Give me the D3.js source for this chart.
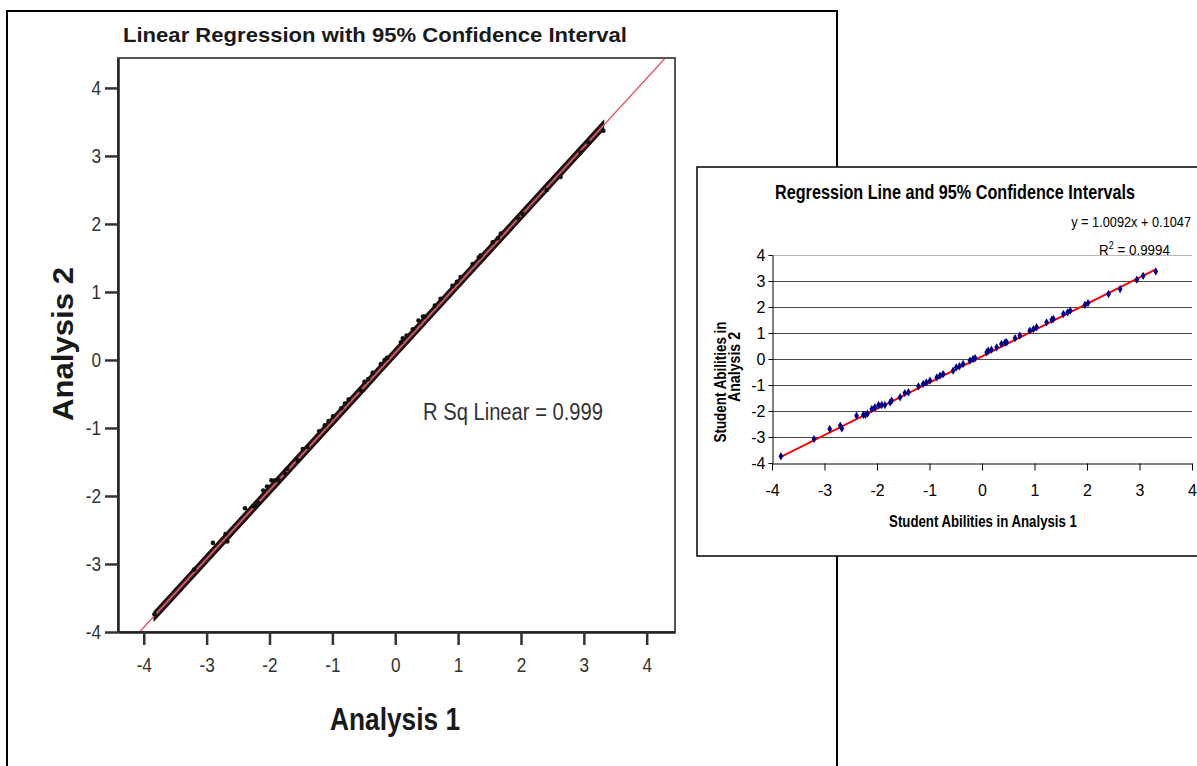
<!DOCTYPE html>
<html>
<head>
<meta charset="utf-8">
<script src="https://cdn.jsdelivr.net/npm/d3@7"></script>
<style>
body { margin: 0; background: #fff; }
svg { display: block; font-family: "Liberation Sans", Arial, sans-serif; }
</style>
</head>
<body>
<svg id="chart" width="1197" height="766"></svg>
<script>

// student abilities (logits), same students in both runs
var analysis1 = [-3.83, -3.20, -2.90, -2.70, -2.67, -2.39, -2.26, -2.22, -2.18, -2.10,
    -2.04, -1.97, -1.91, -1.85, -1.75, -1.72, -1.56, -1.47, -1.40, -1.21,
    -1.12, -1.06, -0.99, -0.86, -0.80, -0.74, -0.55, -0.49, -0.43, -0.36,
    -0.23, -0.17, -0.13, 0.09, 0.12, 0.18, 0.28, 0.37, 0.44, 0.47,
    0.63, 0.72, 0.91, 0.98, 1.04, 1.23, 1.33, 1.36, 1.55, 1.63,
    1.68, 1.96, 2.02, 2.41, 2.63, 2.95, 3.07, 3.31];
var analysis2 = [-3.74, -3.08, -2.69, -2.56, -2.67, -2.18, -2.15, -2.15, -2.10, -1.92,
    -1.86, -1.77, -1.77, -1.77, -1.67, -1.60, -1.47, -1.31, -1.28, -1.05,
    -0.96, -0.90, -0.83, -0.71, -0.64, -0.58, -0.45, -0.32, -0.28, -0.19,
    -0.06, 0.00, 0.03, 0.26, 0.32, 0.36, 0.45, 0.58, 0.64, 0.64,
    0.80, 0.90, 1.09, 1.15, 1.22, 1.41, 1.51, 1.54, 1.73, 1.79,
    1.86, 2.08, 2.15, 2.50, 2.69, 3.05, 3.20, 3.37];

var fitSlope = 1.0092, fitIntercept = 0.1047;
var ciHalfWidth = 0.06;
var axisTicks = [-4, -3, -2, -1, 0, 1, 2, 3, 4];

var points = analysis1.map(function(x, i) { return {x: x, y: analysis2[i]}; });
var xMin = d3.min(analysis1), xMax = d3.max(analysis1);
function fit(x) { return fitSlope * x + fitIntercept; }
function plainTick(d) { return String(d); }   // keep a hyphen, not d3's unicode minus

var svg = d3.select("#chart");

// narrow the glyphs a bit (the originals use condensed fonts)
function squeeze(sel, k) {
    sel.each(function() {
        var w = this.getComputedTextLength();
        this.setAttribute("textLength", w * k);
        this.setAttribute("lengthAdjust", "spacingAndGlyphs");
    });
}
function fitWidth(sel, w) {
    sel.attr("textLength", w).attr("lengthAdjust", "spacingAndGlyphs");
}
// same idea but with a real horizontal scale, so the box matches what is drawn
function scaleTo(sel, x, y, w) {
    sel.attr("x", 0).attr("y", 0).each(function() {
        var k = w / this.getComputedTextLength();
        this.setAttribute("transform", "translate(" + x + "," + y + ") scale(" + k + ",1)");
    });
}

/* ---------- left chart (SPSS) ---------- */

var L = {left: 118, top: 58, right: 675, bottom: 632};
var lx = d3.scaleLinear().domain([-4.41, 4.45]).range([L.left, L.right]);
var ly = d3.scaleLinear().domain([-4, 4.44]).range([L.bottom, L.top]);

svg.append("rect")
    .attr("x", 7).attr("y", 11).attr("width", 830).attr("height", 800)
    .attr("fill", "#fff").attr("stroke", "#000").attr("stroke-width", 2);

svg.append("clipPath").attr("id", "lclip")
    .append("rect")
    .attr("x", L.left).attr("y", L.top)
    .attr("width", L.right - L.left).attr("height", L.bottom - L.top);

var left = svg.append("g");

left.append("text")
    .attr("x", 375).attr("y", 42)
    .attr("text-anchor", "middle")
    .attr("font-size", 21).attr("font-weight", "bold").attr("fill", "#1a1a1a")
    .text("Linear Regression with 95% Confidence Interval")
    .call(fitWidth, 504);

var lplot = left.append("g").attr("clip-path", "url(#lclip)");

var band = d3.range(xMin, xMax + 0.001, (xMax - xMin) / 40);
lplot.append("path")
    .datum(band)
    .attr("d", d3.area()
        .x(function(d) { return lx(d); })
        .y0(function(d) { return ly(fit(d) - ciHalfWidth); })
        .y1(function(d) { return ly(fit(d) + ciHalfWidth); }))
    .attr("fill", "#4a2228").attr("stroke", "#140c0c").attr("stroke-width", 1.8);

lplot.append("line")
    .attr("x1", lx(-4.5)).attr("y1", ly(fit(-4.5)))
    .attr("x2", lx(4.5)).attr("y2", ly(fit(4.5)))
    .attr("stroke", "#e0606e").attr("stroke-width", 1.5);

lplot.selectAll("circle")
    .data(points)
    .enter().append("circle")
    .attr("cx", function(d) { return lx(d.x); })
    .attr("cy", function(d) { return ly(d.y); })
    .attr("r", 2.3)
    .attr("fill", "#111");

left.append("rect")
    .attr("x", L.left).attr("y", L.top)
    .attr("width", L.right - L.left).attr("height", L.bottom - L.top)
    .attr("fill", "none").attr("stroke", "#555").attr("stroke-width", 2);

var lyAxis = left.append("g")
    .attr("transform", "translate(" + L.left + ",0)")
    .call(d3.axisLeft(ly).tickValues(axisTicks).tickFormat(plainTick)
        .tickSize(13).tickPadding(4).tickSizeOuter(0));
var lxAxis = left.append("g")
    .attr("transform", "translate(0," + L.bottom + ")")
    .call(d3.axisBottom(lx).tickValues(axisTicks).tickFormat(plainTick)
        .tickSize(13).tickPadding(13).tickSizeOuter(0));

[lyAxis, lxAxis].forEach(function(ax) {
    ax.select(".domain").attr("stroke", "#222").attr("stroke-width", 2.5);
    ax.selectAll(".tick line").attr("stroke", "#333").attr("stroke-width", 2.5);
    ax.selectAll(".tick text")
        .attr("font-size", 20).attr("fill", "#333")
        .attr("font-family", "Liberation Sans, Arial, sans-serif")
        .call(squeeze, 0.86);
});

left.append("text")
    .attr("x", 423).attr("y", 420)
    .attr("font-size", 23).attr("fill", "#333")
    .text("R Sq Linear = 0.999")
    .call(fitWidth, 180);

left.append("text")
    .attr("x", 395).attr("y", 730)
    .attr("text-anchor", "middle")
    .attr("font-size", 31).attr("font-weight", "bold").attr("fill", "#1a1a1a")
    .text("Analysis 1")
    .call(fitWidth, 130);

left.append("text")
    .attr("transform", "translate(73,344) rotate(-90)")
    .attr("text-anchor", "middle")
    .attr("font-size", 30).attr("font-weight", "bold").attr("fill", "#1a1a1a")
    .text("Analysis 2")
    .call(fitWidth, 154);

/* ---------- right chart (Excel) ---------- */

var R = {left: 772, top: 255, right: 1192, bottom: 463};
var rx = d3.scaleLinear().domain([-4, 4]).range([R.left, R.right]);
var ry = d3.scaleLinear().domain([-4, 4]).range([R.bottom, R.top]);

var right = svg.append("g");

right.append("rect")
    .attr("x", 697).attr("y", 167).attr("width", 520).attr("height", 389)
    .attr("fill", "#fff").attr("stroke", "#000").attr("stroke-width", 1.5);

right.selectAll(".grid")
    .data(axisTicks.filter(function(t) { return t > -4; }))
    .enter().append("line")
    .attr("class", "grid")
    .attr("x1", R.left).attr("x2", R.right)
    .attr("y1", function(d) { return Math.round(ry(d)) + 0.5; })
    .attr("y2", function(d) { return Math.round(ry(d)) + 0.5; })
    .attr("stroke", function(d) { return d === 4 ? "#b8b8b8" : "#4a4a4a"; })
    .attr("stroke-width", 1);

var ryAxis = right.append("g")
    .attr("transform", "translate(" + (R.left + 0.5) + ",0)")
    .call(d3.axisLeft(ry).tickValues(axisTicks).tickFormat(plainTick)
        .tickSize(4).tickPadding(3).tickSizeOuter(0));
var rxAxis = right.append("g")
    .attr("transform", "translate(0," + (R.bottom + 0.5) + ")")
    .call(d3.axisBottom(rx).tickValues(axisTicks).tickFormat(plainTick)
        .tickSize(7).tickPadding(14).tickSizeOuter(0));

[ryAxis, rxAxis].forEach(function(ax) {
    ax.select(".domain").attr("stroke", "#000");
    ax.selectAll(".tick line").attr("stroke", "#000");
    ax.selectAll(".tick text")
        .attr("font-size", 16).attr("fill", "#000")
        .attr("font-family", "Liberation Sans, Arial, sans-serif");
});

right.append("line")
    .attr("x1", rx(xMin)).attr("y1", ry(fit(xMin)))
    .attr("x2", rx(xMax)).attr("y2", ry(fit(xMax)))
    .attr("stroke", "#ff0000").attr("stroke-width", 2);

right.selectAll(".pt")
    .data(points)
    .enter().append("path")
    .attr("class", "pt")
    .attr("transform", function(d) { return "translate(" + rx(d.x) + "," + ry(d.y) + ")"; })
    .attr("d", d3.symbol(d3.symbolDiamond, 20))
    .attr("fill", "#00008b");

right.append("text")
    .attr("text-anchor", "middle")
    .attr("font-size", 21).attr("font-weight", "bold")
    .text("Regression Line and 95% Confidence Intervals")
    .call(scaleTo, 955, 199, 360);

right.append("text")
    .attr("text-anchor", "end")
    .attr("font-size", 15)
    .text("y = " + fitSlope.toFixed(4) + "x + " + fitIntercept.toFixed(4))
    .call(scaleTo, 1191, 227, 120);

var r2 = right.append("text")
    .attr("font-size", 15);
r2.append("tspan").text("R");
r2.append("tspan").attr("font-size", 10).attr("dy", -6).text("2");
r2.append("tspan").attr("dy", 6).text(" = 0.9994");
r2.call(scaleTo, 1099, 255, 71);

right.append("text")
    .attr("text-anchor", "middle")
    .attr("font-size", 17).attr("font-weight", "bold")
    .text("Student Abilities in Analysis 1")
    .call(scaleTo, 983, 527, 188);

right.append("text")
    .attr("transform", "translate(726,382) rotate(-90)")
    .attr("text-anchor", "middle")
    .attr("font-size", 17).attr("font-weight", "bold")
    .text("Student Abilities in")
    .call(fitWidth, 121);
right.append("text")
    .attr("transform", "translate(740,367) rotate(-90)")
    .attr("text-anchor", "middle")
    .attr("font-size", 17).attr("font-weight", "bold")
    .text("Analysis 2")
    .call(fitWidth, 70);

</script>
</body>
</html>
